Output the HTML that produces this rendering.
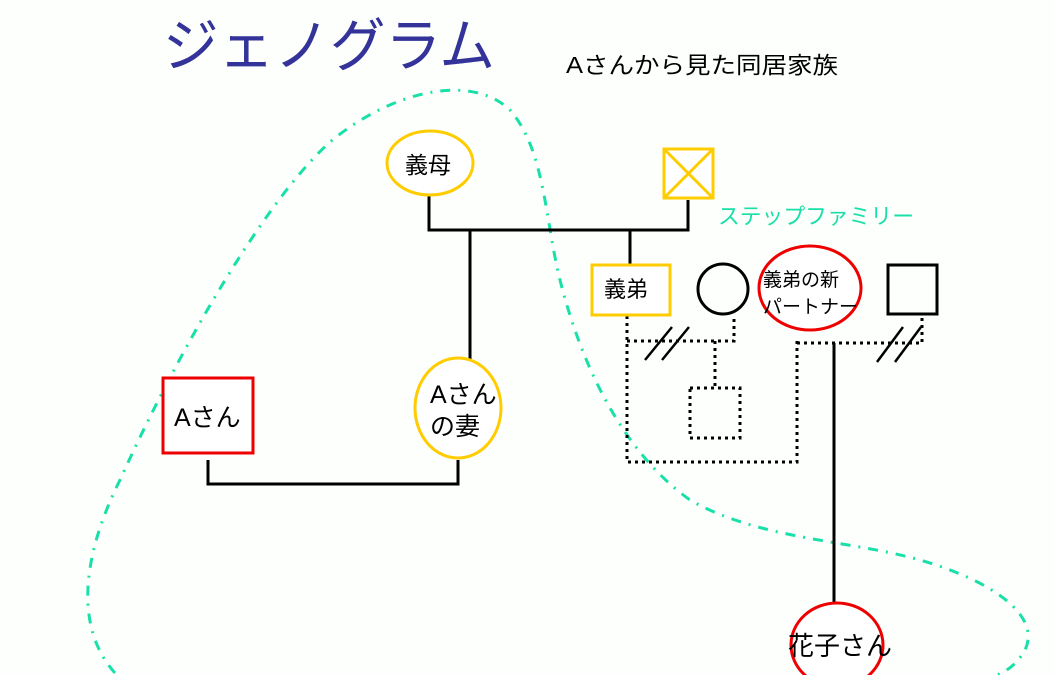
<!DOCTYPE html>
<html><head><meta charset="utf-8"><style>
html,body{margin:0;padding:0;background:#fdfffd;}
svg{display:block;}
text{font-family:"Liberation Sans","Noto Sans CJK JP",sans-serif;}
</style></head><body>
<svg width="1054" height="675" viewBox="0 0 1054 675" xmlns="http://www.w3.org/2000/svg">
<rect width="1054" height="675" fill="#fdfffd"/>
<text x="163" y="66" font-size="58" fill="#333399" textLength="332" lengthAdjust="spacingAndGlyphs">ジェノグラム</text>
<text x="566" y="73" font-size="23" fill="#000" textLength="272" lengthAdjust="spacingAndGlyphs">Aさんから見た同居家族</text>
<path d="M115,673 C76,630 80,560 120,480 C165,380 255,210 330,142 C390,92 470,72 510,110 C545,150 545,220 560,280 C580,360 620,450 690,500 C760,540 850,540 920,560 C990,580 1042,615 1025,650 C1015,668 1000,675 990,677" fill="none" stroke="#19e0a8" stroke-width="3" stroke-dasharray="10,8,2,8"/>
<g stroke="#000" stroke-width="3" fill="none">
<path d="M429,195 V230 H688 V200"/>
<path d="M630,230 V265"/>
<path d="M470,230 V365"/>
<path d="M208,460 V484 H458 V460"/>
<path d="M834,343 V602"/>
<circle cx="723" cy="289" r="25"/>
<rect x="888" y="265" width="49" height="49"/>
<path d="M645,360 L672,327 M662,360 L689,327 M877,362 L903,327 M895,362 L921,327" stroke-width="2.5"/>
</g>
<g stroke="#000" stroke-width="3" fill="none" stroke-dasharray="3,4">
<path d="M627,316 V462 H797 V338"/>
<path d="M627,341 H734 V316"/>
<path d="M715,341 V388"/>
<rect x="690" y="388" width="50" height="50"/>
<path d="M797,343 H922 V318"/>
</g>
<g stroke="#ffcc00" stroke-width="3" fill="#fff">
<ellipse cx="430" cy="163" rx="43" ry="32"/>
<rect x="664" y="149" width="49" height="49"/>
<path d="M664,149 L713,198 M713,149 L664,198" fill="none"/>
<rect x="592" y="265" width="78" height="50"/>
<ellipse cx="458" cy="408" rx="43" ry="50"/>
</g>
<g stroke="#ee0000" stroke-width="3" fill="#fff">
<ellipse cx="810" cy="288" rx="51" ry="42"/>
<rect x="163" y="378" width="90" height="75"/>
<ellipse cx="837" cy="645" rx="46" ry="42"/>
</g>
<text x="405" y="173" font-size="23" fill="#000">義母</text>
<text x="604" y="297" font-size="22" fill="#000">義弟</text>
<text x="763" y="286" font-size="19" fill="#000">義弟の新</text>
<text x="763" y="313" font-size="19" fill="#000">パートナー</text>
<text x="174" y="426" font-size="25" fill="#000">Aさん</text>
<text x="430" y="403" font-size="25" fill="#000">Aさん</text>
<text x="430" y="435" font-size="25" fill="#000">の妻</text>
<text x="788" y="655" font-size="26" fill="#000">花子さん</text>
<text x="718" y="224" font-size="22" fill="#19e0a8" textLength="196" lengthAdjust="spacingAndGlyphs">ステップファミリー</text>
</svg>
</body></html>
